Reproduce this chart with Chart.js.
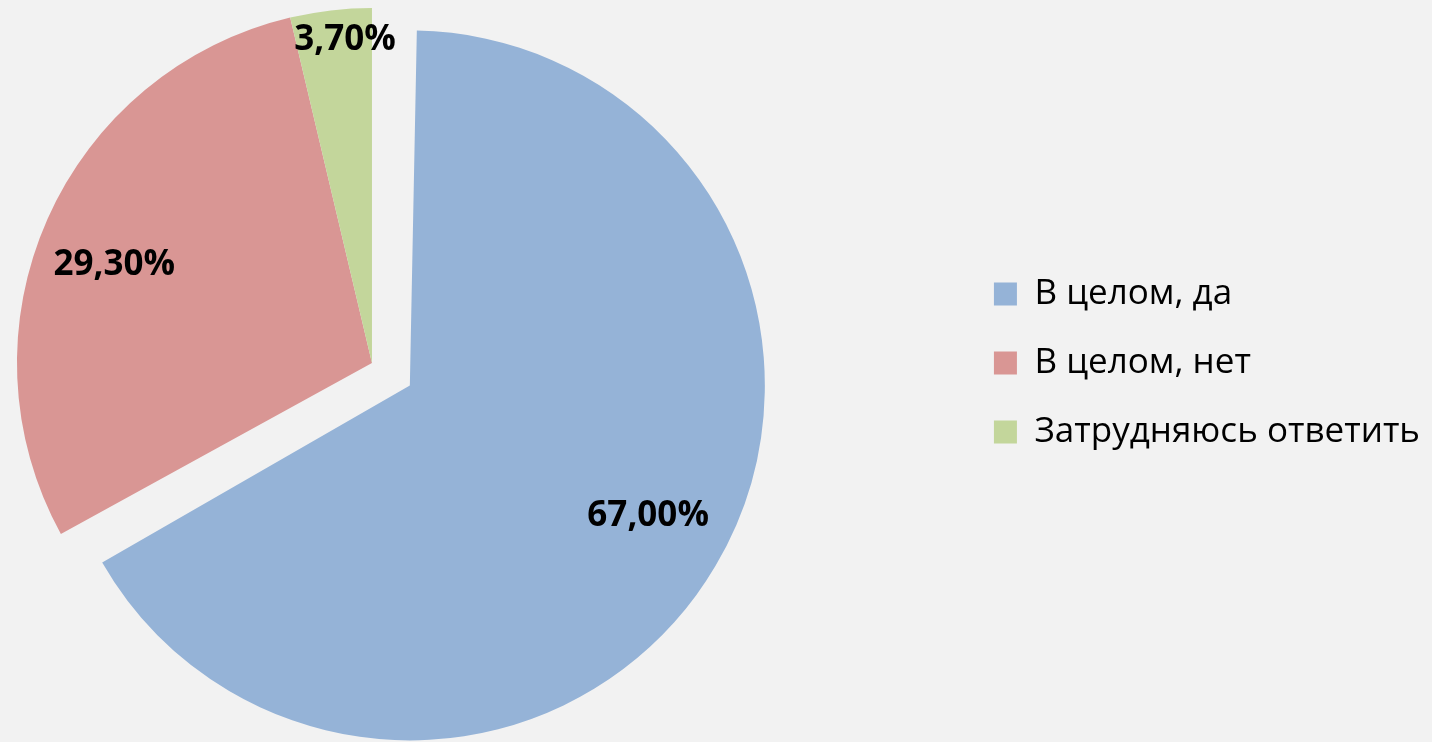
<!DOCTYPE html>
<html>

<head>
    <meta charset="utf-8">
    <title>Pie</title>
    <script src="https://cdn.jsdelivr.net/npm/chart.js@4.4.1/dist/chart.umd.min.js"></script>
    <style>
        html, body { margin: 0; padding: 0; background: #f2f2f2; overflow: hidden; }
        #page { width: 1432px; height: 742px; position: relative; overflow: hidden; }
        /* canvas is wider than the page and pulled left so the pie sits left of centre */
        #wrap { position: absolute; left: -216px; top: 0; width: 1648px; height: 742px; }
    </style>
</head>

<body>
    <div id="page">
        <div id="wrap">
            <canvas id="myChart"></canvas>
        </div>
    </div>
    <script>
        // data
        const categories = ['В целом, да', 'В целом, нет', 'Затрудняюсь ответить'];
        const percents = [67.00, 29.30, 3.70];
        const sliceColors = ['#95b3d7', '#d99694', '#c3d69b'];

        const FONT = '"Open Sans"';

        // chart.js grows the radius of an exploded big slice, shrink it back
        function growth(arc) {
            const off = (arc.options.offset || 0) / 4;
            const fix = 1 - Math.sin(Math.min(Math.PI, arc.circumference || 0));
            return off * fix;
        }
        const keepRadius = {
            id: 'keepRadius',
            afterDatasetUpdate(chart, args) {
                args.meta.data.forEach(function (arc) {
                    arc.outerRadius -= growth(arc);
                });
            }
        };

        // percent labels drawn on the slices
        const pctLabels = {
            id: 'pctLabels',
            afterDatasetsDraw(chart, args, opts) {
                const ctx = chart.ctx;
                const meta = chart.getDatasetMeta(0);
                const values = chart.data.datasets[0].data;
                ctx.save();
                ctx.font = opts.font;
                ctx.fillStyle = opts.color;
                ctx.textAlign = 'center';
                ctx.textBaseline = 'middle';
                meta.data.forEach(function (arc, i) {
                    const p = arc.getProps(['x', 'y', 'startAngle', 'endAngle', 'outerRadius'], true);
                    const mid = (p.startAngle + p.endAngle) / 2;
                    const shift = (arc.options.offset || 0) / 4;
                    const cx = p.x + Math.cos(mid) * shift;
                    const cy = p.y + Math.sin(mid) * shift;
                    const rad = p.outerRadius + growth(arc);
                    const a = mid + opts.turn[i] * Math.PI / 180;
                    const r = rad * opts.radii[i];
                    const txt = values[i].toFixed(2).replace('.', ',') + '%';
                    ctx.fillText(txt, cx + Math.cos(a) * r, cy + Math.sin(a) * r);
                });
                ctx.restore();
            }
        };

        const config = {
            type: 'pie',
            data: {
                labels: categories,
                datasets: [{
                    data: percents,
                    backgroundColor: sliceColors,
                    borderWidth: 0,
                    offset: [176, 0, 0],
                    radius: 355,
                    clip: false
                }]
            },
            options: {
                responsive: true,
                maintainAspectRatio: false,
                animation: false,
                layout: {
                    padding: { left: 0, right: 2, top: 0, bottom: 16 }
                },
                plugins: {
                    tooltip: { enabled: false },
                    legend: {
                        position: 'right',
                        align: 'center',
                        labels: {
                            boxWidth: 23,
                            boxHeight: 23,
                            padding: 34,
                            color: '#000',
                            font: { family: FONT, size: 35 }
                        }
                    },
                    pctLabels: {
                        font: 'bold 35px ' + FONT,
                        color: '#000',
                        radii: [0.766, 0.777, 0.913],
                        turn: [-1.8, -3.1, 1.9]
                    }
                }
            },
            plugins: [keepRadius, pctLabels]
        };

        const myChart = new Chart(document.getElementById('myChart'), config);
    </script>
</body>

</html>
